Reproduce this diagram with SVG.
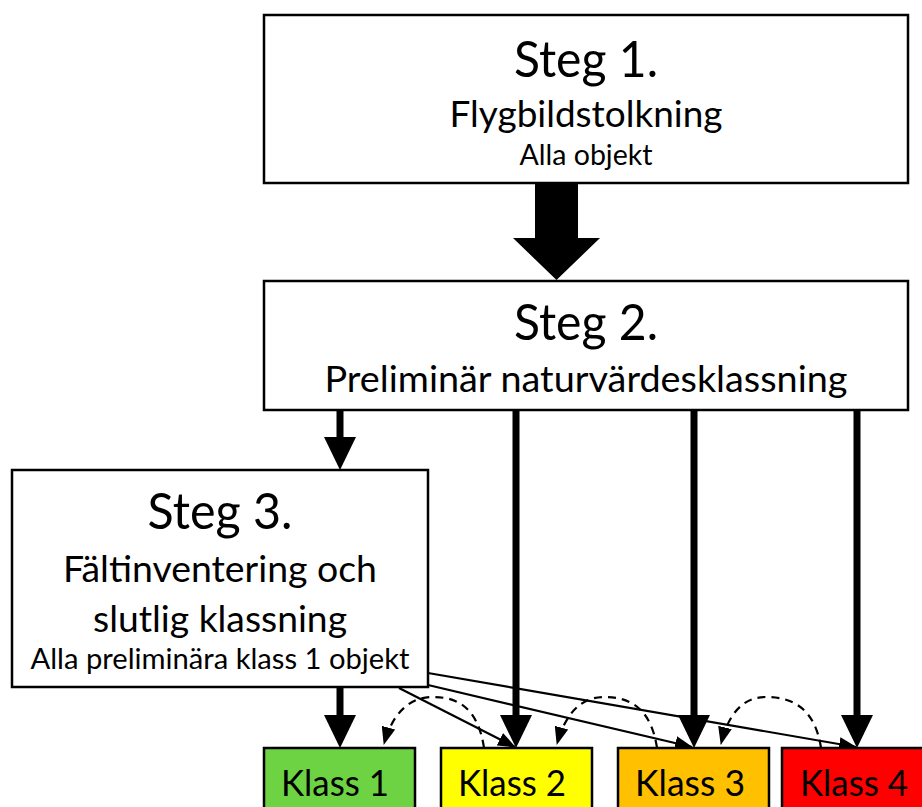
<svg xmlns="http://www.w3.org/2000/svg" width="922" height="807" viewBox="0 0 922 807">
<style>
.box{fill:#fff;stroke:#000;stroke-width:2.5}
.cls{stroke:#000;stroke-width:2.5}
text{font-family:Lato,"Open Sans","Liberation Sans",sans-serif;fill:#000;text-anchor:middle}
.big{font-size:50px}
.mid{font-size:37px}
.sm{font-size:28.5px}
.thick{stroke:#000;stroke-width:7;fill:none}
.head{fill:#000}
.thin{stroke:#000;stroke-width:2.2;fill:none;marker-end:url(#ah)}
.dash{stroke:#000;stroke-width:2.2;fill:none;stroke-dasharray:8 6;marker-end:url(#ah)}
</style>
<defs>
<marker id="ah" viewBox="0 0 18 14" refX="17" refY="7" markerWidth="18" markerHeight="14" markerUnits="userSpaceOnUse" orient="auto">
<path d="M0,0 L18,7 L0,14 Z" fill="#000"/>
</marker>
</defs>
<g id="connectors">
<polygon points="535,183 578,183 578,238 600,238 556.5,280 513,238 535,238" fill="#000"/>
<line class="thick" x1="340" y1="410" x2="340" y2="440"/>
<polygon class="head" points="324,437 356,437 340,470"/>
<line class="thick" x1="340" y1="687" x2="340" y2="718"/>
<polygon class="head" points="324,715 356,715 340,748"/>
<line class="thick" x1="516" y1="410" x2="516" y2="718"/>
<polygon class="head" points="500,715 532,715 516,748"/>
<line class="thick" x1="694" y1="410" x2="694" y2="718"/>
<polygon class="head" points="678,715 710,715 694,748"/>
<line class="thick" x1="857" y1="410" x2="857" y2="718"/>
<polygon class="head" points="841,715 873,715 857,748"/>
<line class="thin" x1="399" y1="688" x2="515" y2="747"/>
<line class="thin" x1="428" y1="685" x2="692" y2="747"/>
<line class="thin" x1="428" y1="673" x2="856" y2="747"/>
<path class="dash" d="M484,748 C478,708 458,697 433,697 C408,697 392,715 384,744"/>
<path class="dash" d="M657,748 C651,708 630,697 604,697 C580,697 565,715 557,744"/>
<path class="dash" d="M821,748 C815,708 792,697 766,697 C742,697 728,715 721,744"/>
</g>
<g id="steg1">
<rect class="box" x="264" y="15" width="644" height="168"/>
<text class="big" x="586" y="77" textLength="144" lengthAdjust="spacingAndGlyphs">Steg 1.</text>
<text class="mid" x="586" y="127" textLength="273" lengthAdjust="spacingAndGlyphs">Flygbildstolkning</text>
<text class="sm" x="586" y="165" textLength="133" lengthAdjust="spacingAndGlyphs">Alla objekt</text>
</g>
<g id="steg2">
<rect class="box" x="264" y="281" width="644" height="129"/>
<text class="big" x="586" y="340" textLength="144" lengthAdjust="spacingAndGlyphs">Steg 2.</text>
<text class="mid" x="586" y="392" textLength="523" lengthAdjust="spacingAndGlyphs">Preliminär naturvärdesklassning</text>
</g>
<g id="steg3">
<rect class="box" x="12" y="470" width="416" height="217"/>
<text class="big" x="220" y="529" textLength="145" lengthAdjust="spacingAndGlyphs">Steg 3.</text>
<text class="mid" x="220" y="582" textLength="314" lengthAdjust="spacingAndGlyphs">Fältinventering och</text>
<text class="mid" x="220" y="632" textLength="254" lengthAdjust="spacingAndGlyphs">slutlig klassning</text>
<text class="sm" x="220" y="669" textLength="379" lengthAdjust="spacingAndGlyphs">Alla preliminära klass 1 objekt</text>
</g>
<g id="klass1">
<rect class="cls" x="264" y="748" width="151" height="62" fill="#6dd343"/>
<text class="mid" x="335" y="796" textLength="108" lengthAdjust="spacingAndGlyphs">Klass 1</text>
</g>
<g id="klass2">
<rect class="cls" x="441" y="748" width="151" height="62" fill="#ffff00"/>
<text class="mid" x="512" y="796" textLength="108" lengthAdjust="spacingAndGlyphs">Klass 2</text>
</g>
<g id="klass3">
<rect class="cls" x="618" y="748" width="151" height="62" fill="#ffc000"/>
<text class="mid" x="690" y="796" textLength="110" lengthAdjust="spacingAndGlyphs">Klass 3</text>
</g>
<g id="klass4">
<rect class="cls" x="782" y="748" width="151" height="62" fill="#ff0000"/>
<text class="mid" x="854" y="796" textLength="108" lengthAdjust="spacingAndGlyphs">Klass 4</text>
</g>
</svg>
